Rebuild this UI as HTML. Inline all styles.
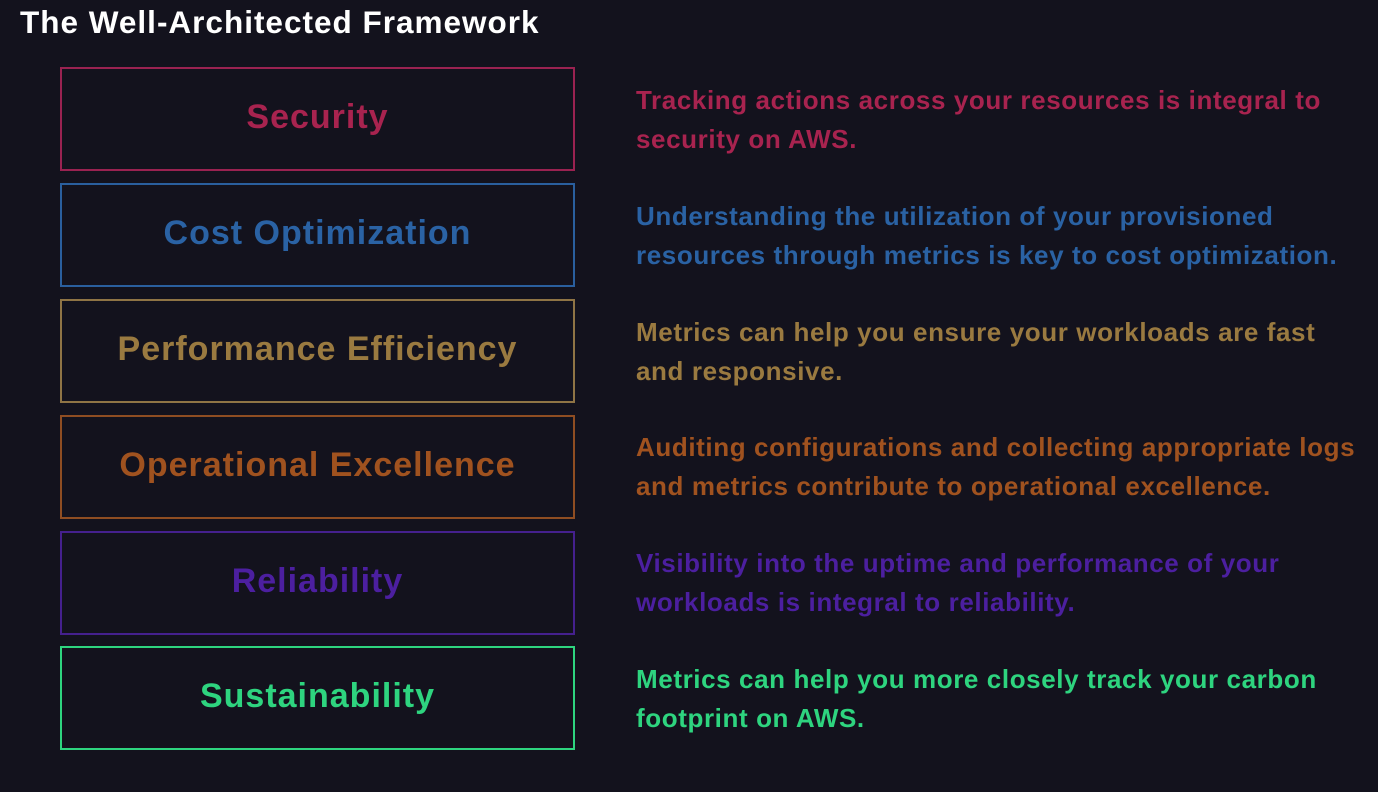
<!DOCTYPE html>
<html><head><meta charset="utf-8"><style>
body{margin:0;width:1378px;height:792px;background:#13121d;font-family:"Liberation Sans",sans-serif;position:relative;overflow:hidden}
.t{position:absolute;left:20px;top:4px;font-size:31.5px;font-weight:bold;color:#fff;letter-spacing:1px}
.b{position:absolute;left:60px;width:511px;border:2px solid;display:flex;align-items:center;justify-content:center;font-size:34px;font-weight:bold;box-sizing:content-box;letter-spacing:1px;padding-bottom:4px;height:96px}
.d{position:absolute;left:636px;font-size:26px;font-weight:bold;line-height:39px;width:742px;letter-spacing:0.6px;white-space:nowrap}
</style></head><body>
<div class="t">The Well-Architected Framework</div>
<div class="b" style="top:67px;border-color:#9a2251;color:#a8234f">Security</div>
<div class="b" style="top:183px;border-color:#2a5f9e;color:#2a62a4">Cost Optimization</div>
<div class="b" style="top:299px;border-color:#8f7445;color:#9a7a40">Performance Efficiency</div>
<div class="b" style="top:415px;border-color:#8f4d22;color:#a0521f">Operational Excellence</div>
<div class="b" style="top:531px;border-color:#45208e;color:#4c1fa0">Reliability</div>
<div class="b" style="top:646px;border-color:#2ed47f;color:#2ed47f">Sustainability</div>
<div class="d" style="top:81px;color:#a8234f">Tracking actions across your resources is integral to<br>security on AWS.</div>
<div class="d" style="top:197px;color:#2a62a4">Understanding the utilization of your provisioned<br>resources through metrics is key to cost optimization.</div>
<div class="d" style="top:313px;color:#9a7a40">Metrics can help you ensure your workloads are fast<br>and responsive.</div>
<div class="d" style="top:428px;color:#a0521f">Auditing configurations and collecting appropriate logs<br>and metrics contribute to operational excellence.</div>
<div class="d" style="top:544px;color:#4c1fa0">Visibility into the uptime and performance of your<br>workloads is integral to reliability.</div>
<div class="d" style="top:660px;color:#2ed47f">Metrics can help you more closely track your carbon<br>footprint on AWS.</div>
</body></html>
